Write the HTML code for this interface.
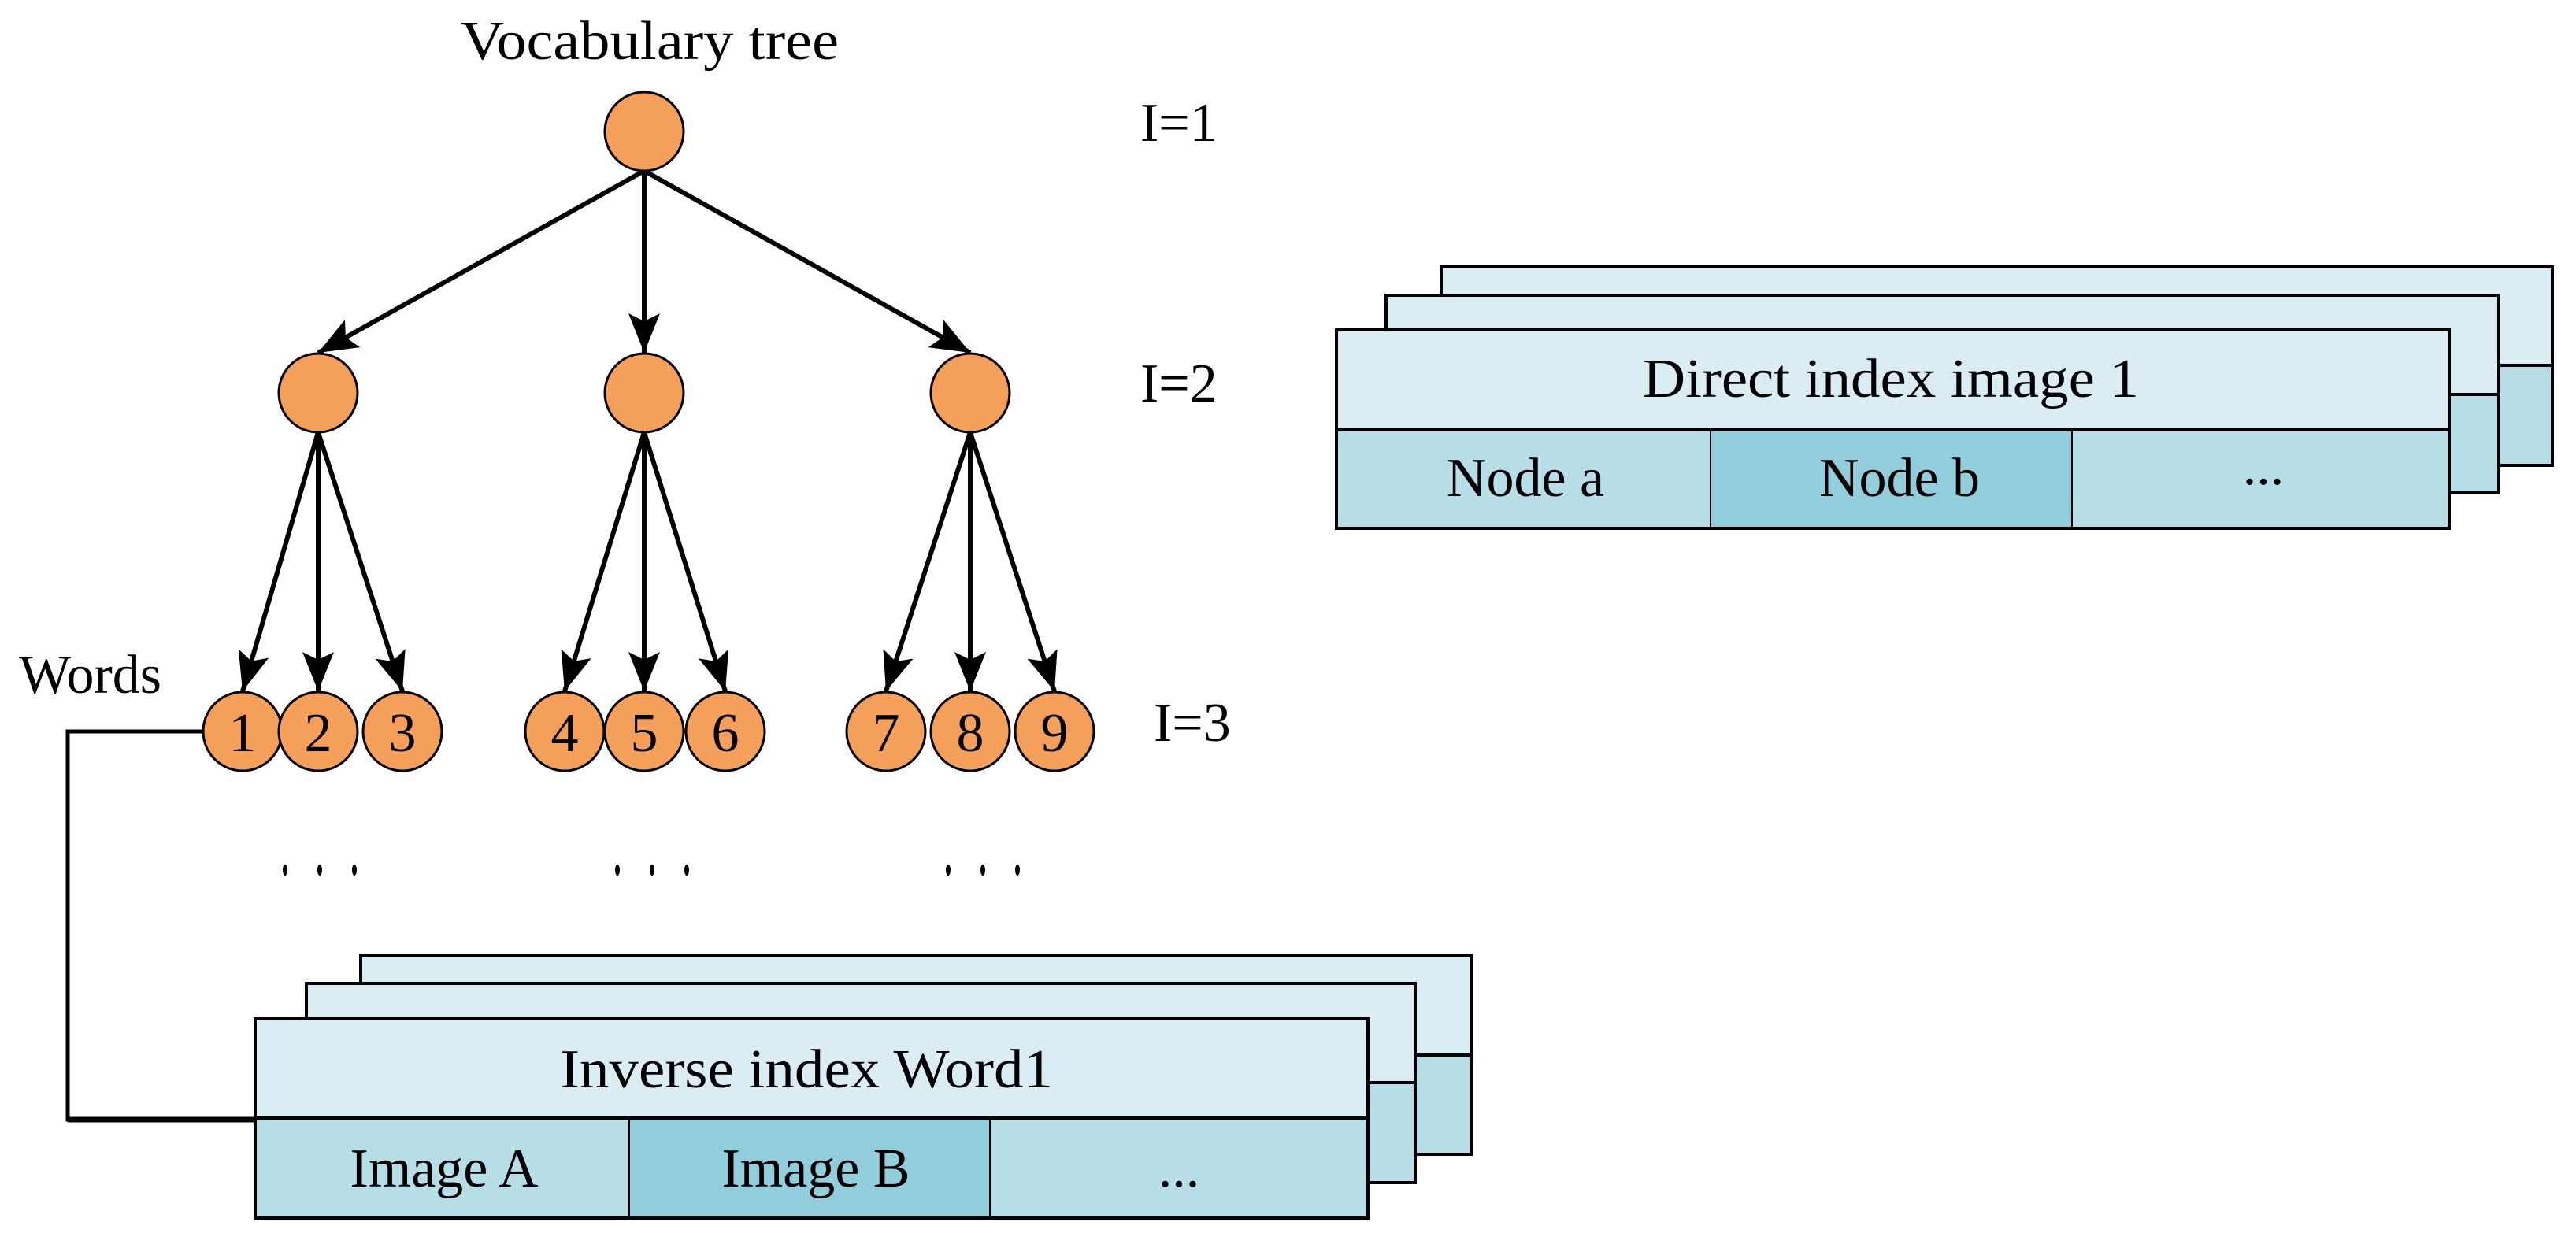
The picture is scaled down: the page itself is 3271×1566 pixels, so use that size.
<!DOCTYPE html>
<html><head><meta charset="utf-8"><style>html,body{margin:0;padding:0;background:#fff}svg{display:block}</style></head>
<body>
<svg width="3271" height="1566" viewBox="0 0 3271 1566" xmlns="http://www.w3.org/2000/svg" font-family="Liberation Serif, serif">
<defs>
<marker id="ah" markerUnits="userSpaceOnUse" markerWidth="60" markerHeight="50" refX="50" refY="20" orient="auto">
<path d="M0,0 L50,20 L0,40 L10,20 Z" fill="#000"/>
</marker>
</defs>
<rect width="3271" height="1566" fill="#fff"/>
<text x="825" y="75" font-size="70" text-anchor="middle" textLength="480" lengthAdjust="spacingAndGlyphs">Vocabulary tree</text>
<g font-size="70">
<text x="1448" y="179">I=1</text>
<text x="1448" y="510">I=2</text>
<text x="1465" y="941">I=3</text>
<text x="24" y="880">Words</text>
</g>
<g stroke="#000" stroke-width="6" fill="none" marker-end="url(#ah)">
<line x1="818" y1="217" x2="404" y2="448"/>
<line x1="818" y1="217" x2="818" y2="448"/>
<line x1="818" y1="217" x2="1232" y2="448"/>
<line x1="404" y1="549" x2="308" y2="878"/>
<line x1="404" y1="549" x2="404" y2="878"/>
<line x1="404" y1="549" x2="511" y2="878"/>
<line x1="818" y1="549" x2="717" y2="878"/>
<line x1="818" y1="549" x2="818" y2="878"/>
<line x1="818" y1="549" x2="921" y2="878"/>
<line x1="1232" y1="549" x2="1125" y2="878"/>
<line x1="1232" y1="549" x2="1232" y2="878"/>
<line x1="1232" y1="549" x2="1339" y2="878"/>
</g>
<g fill="#f4a05a" stroke="#000" stroke-width="3">
<circle cx="818" cy="167" r="50"/>
<circle cx="404" cy="499" r="50"/><circle cx="818" cy="499" r="50"/><circle cx="1232" cy="499" r="50"/>
<circle cx="308" cy="929" r="50"/><circle cx="404" cy="929" r="50"/><circle cx="511" cy="929" r="50"/>
<circle cx="717" cy="929" r="50"/><circle cx="818" cy="929" r="50"/><circle cx="921" cy="929" r="50"/>
<circle cx="1125" cy="929" r="50"/><circle cx="1232" cy="929" r="50"/><circle cx="1339" cy="929" r="50"/>
</g>
<g font-size="70" text-anchor="middle">
<text x="308" y="954">1</text><text x="404" y="954">2</text><text x="511" y="954">3</text>
<text x="717" y="954">4</text><text x="818" y="954">5</text><text x="921" y="954">6</text>
<text x="1125" y="954">7</text><text x="1232" y="954">8</text><text x="1339" y="954">9</text>
</g>
<g fill="#000">
<ellipse cx="362" cy="1105" rx="3" ry="7"/><ellipse cx="406" cy="1105" rx="3" ry="7"/><ellipse cx="450" cy="1105" rx="3" ry="7"/>
<ellipse cx="784" cy="1105" rx="3" ry="7"/><ellipse cx="828" cy="1105" rx="3" ry="7"/><ellipse cx="872" cy="1105" rx="3" ry="7"/>
<ellipse cx="1204" cy="1105" rx="3" ry="7"/><ellipse cx="1248" cy="1105" rx="3" ry="7"/><ellipse cx="1292" cy="1105" rx="3" ry="7"/>
</g>
<polyline points="258,929 86,929 86,1422 324,1422" fill="none" stroke="#000" stroke-width="5"/>
<line x1="86" y1="1422" x2="324" y2="1422" stroke="#000" stroke-width="7"/>
<!-- direct index stack -->
<g stroke="#000" stroke-width="4">
<rect x="1830" y="339" width="1411" height="125" fill="#daedf3"/>
<rect x="1830" y="464" width="1411" height="127" fill="#b7dde7"/>
<rect x="1760" y="375" width="1413" height="126" fill="#daedf3"/>
<rect x="1760" y="501" width="1413" height="125" fill="#b7dde7"/>
<rect x="1697" y="419" width="1413" height="127" fill="#daedf3"/>
<rect x="1697" y="546" width="1413" height="125" fill="#b7dde7"/>
<rect x="2172" y="546" width="459" height="125" fill="#92cddb" stroke-width="2"/>
<line x1="1697" y1="546" x2="3110" y2="546"/>
<line x1="1697" y1="671" x2="3110" y2="671"/>
</g>
<g font-size="70" text-anchor="middle">
<text x="2401" y="504" textLength="630" lengthAdjust="spacingAndGlyphs">Direct index image 1</text>
<text x="1937" y="630">Node a</text>
<text x="2412" y="630">Node b</text>
<text x="2874" y="615">...</text>
</g>
<!-- inverse index stack -->
<g stroke="#000" stroke-width="4">
<rect x="458" y="1214" width="1410" height="126" fill="#daedf3"/>
<rect x="458" y="1340" width="1410" height="126" fill="#b7dde7"/>
<rect x="389" y="1249" width="1408" height="126" fill="#daedf3"/>
<rect x="389" y="1375" width="1408" height="127" fill="#b7dde7"/>
<rect x="324" y="1294" width="1413" height="126" fill="#daedf3"/>
<rect x="324" y="1420" width="1413" height="127" fill="#b7dde7"/>
<rect x="799" y="1420" width="458" height="127" fill="#92cddb" stroke-width="2"/>
<line x1="324" y1="1420" x2="1737" y2="1420"/>
<line x1="324" y1="1547" x2="1737" y2="1547"/>
</g>
<g font-size="70" text-anchor="middle">
<text x="1024" y="1381" textLength="626" lengthAdjust="spacingAndGlyphs">Inverse index Word1</text>
<text x="564" y="1507">Image A</text>
<text x="1036" y="1507">Image B</text>
<text x="1497" y="1507">...</text>
</g>
</svg>
</body></html>
